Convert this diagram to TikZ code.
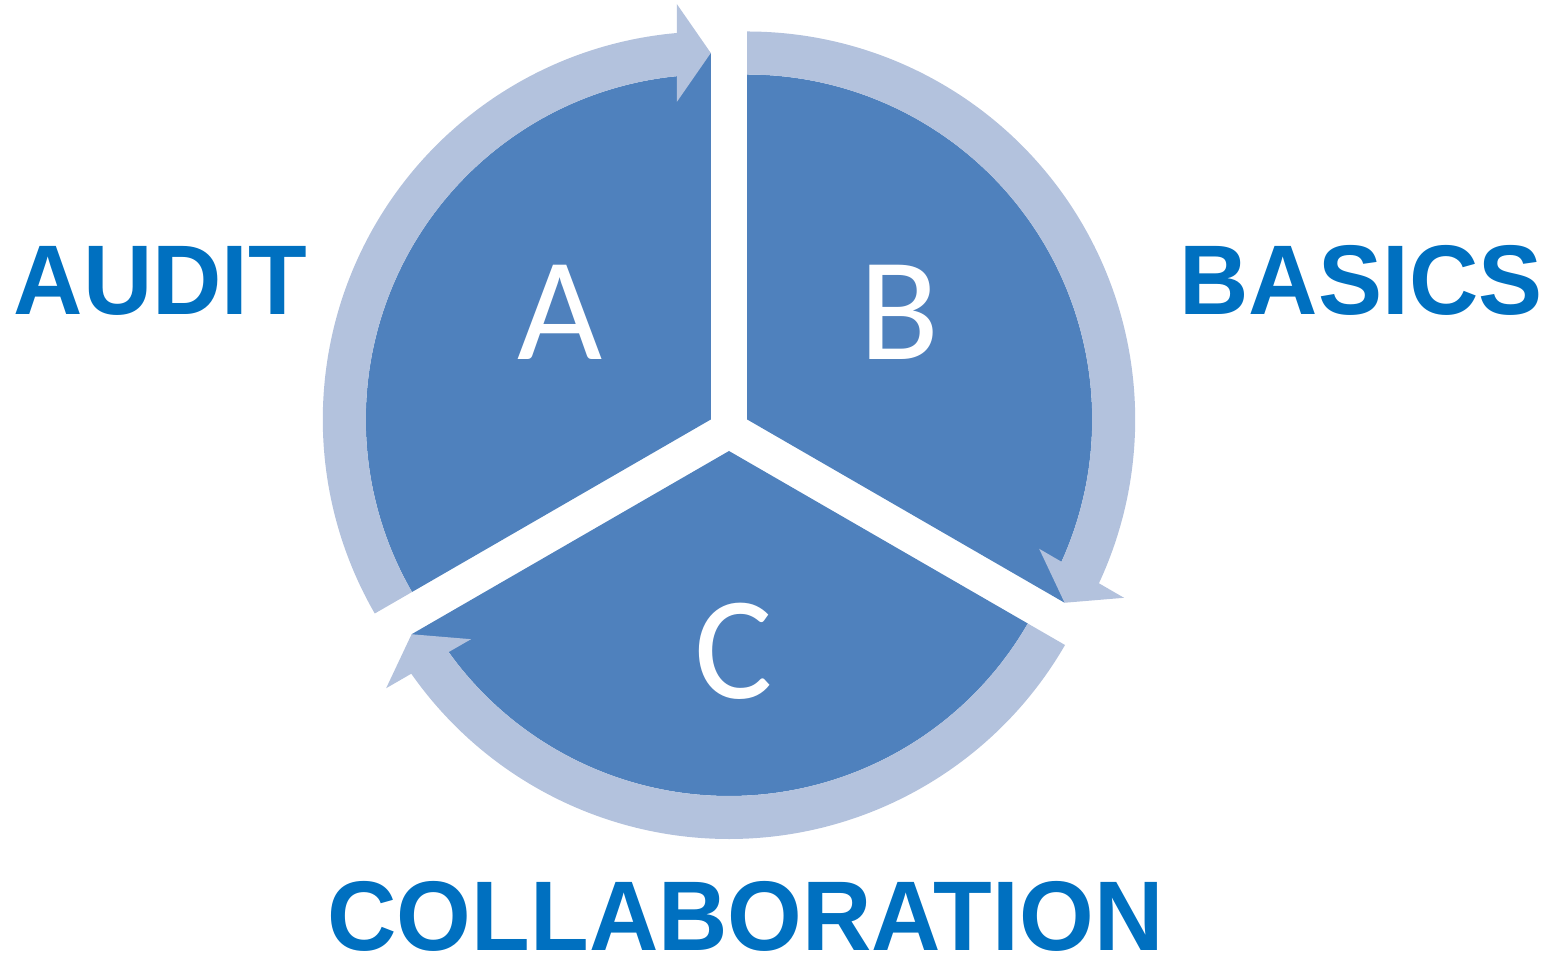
\documentclass[tikz,border=0pt]{standalone}
\usepackage{fontspec}
\usepackage{xcolor}
\usepackage{tikz}
\setmainfont{Carlito}
\newfontfamily\headfont{Liberation Sans}[FakeStretch=0.97]
\definecolor{pieblue}{HTML}{4F81BD}
\definecolor{ringblue}{HTML}{B3C2DD}
\definecolor{wordblue}{HTML}{0070C0}

\begin{document}
\begin{tikzpicture}[x=1pt,y=1pt,
  piece/.style={fill=pieblue},
  ring/.style={fill=ringblue},
  letter/.style={anchor=base,inner sep=0pt,text=white,font=\fontsize{147}{147}\selectfont},
  word/.style={anchor=base,inner sep=0pt,text depth=0pt,text=wordblue,font=\headfont\bfseries\fontsize{99}{99}\selectfont}]
\useasboundingbox (-729,-527) rectangle (825,430);
% the three pieces
\fill[piece, shift={(-18.2,10.5)}] (0,0) -- (90:366.5) -- (95.65:345) arc (95.65:210:345) -- cycle;
\fill[piece, shift={(18.2,10.5)}, rotate=-120] (0,0) -- (90:366.5) -- (95.65:345) arc (95.65:210:345) -- cycle;
\fill[piece, shift={(0,-21)}, rotate=120] (0,0) -- (90:366.5) -- (95.65:345) arc (95.65:210:345) -- cycle;
% the arrows round them
\fill[ring, shift={(-18.2,10.5)}] (210:388) arc (210:95.03:388) -- (-34,415.5) -- (0,366.5) -- (-34,317.5) -- (95.65:345) arc (95.65:210:345) -- cycle;
\fill[ring, shift={(18.2,10.5)}, rotate=-120] (210:388) arc (210:95.03:388) -- (-34,415.5) -- (0,366.5) -- (-34,317.5) -- (95.65:345) arc (95.65:210:345) -- cycle;
\fill[ring, shift={(0,-21)}, rotate=120] (210:388) arc (210:95.03:388) -- (-34,415.5) -- (0,366.5) -- (-34,317.5) -- (95.65:345) arc (95.65:210:345) -- cycle;
% letters
\node[letter] (letterA) at (-169,70) {A};
\node[letter] (letterB) at (170,70) {B};
\node[letter] (letterC) at (5,-268) {C};
% words
\node[word] (audit) at (-568.5,115) {AUDIT};
\node[word] (basics) at (632,115) {BASICS};
\node[word] (collab) at (16.5,-520) {COLLABORATION};
\end{tikzpicture}
\end{document}
